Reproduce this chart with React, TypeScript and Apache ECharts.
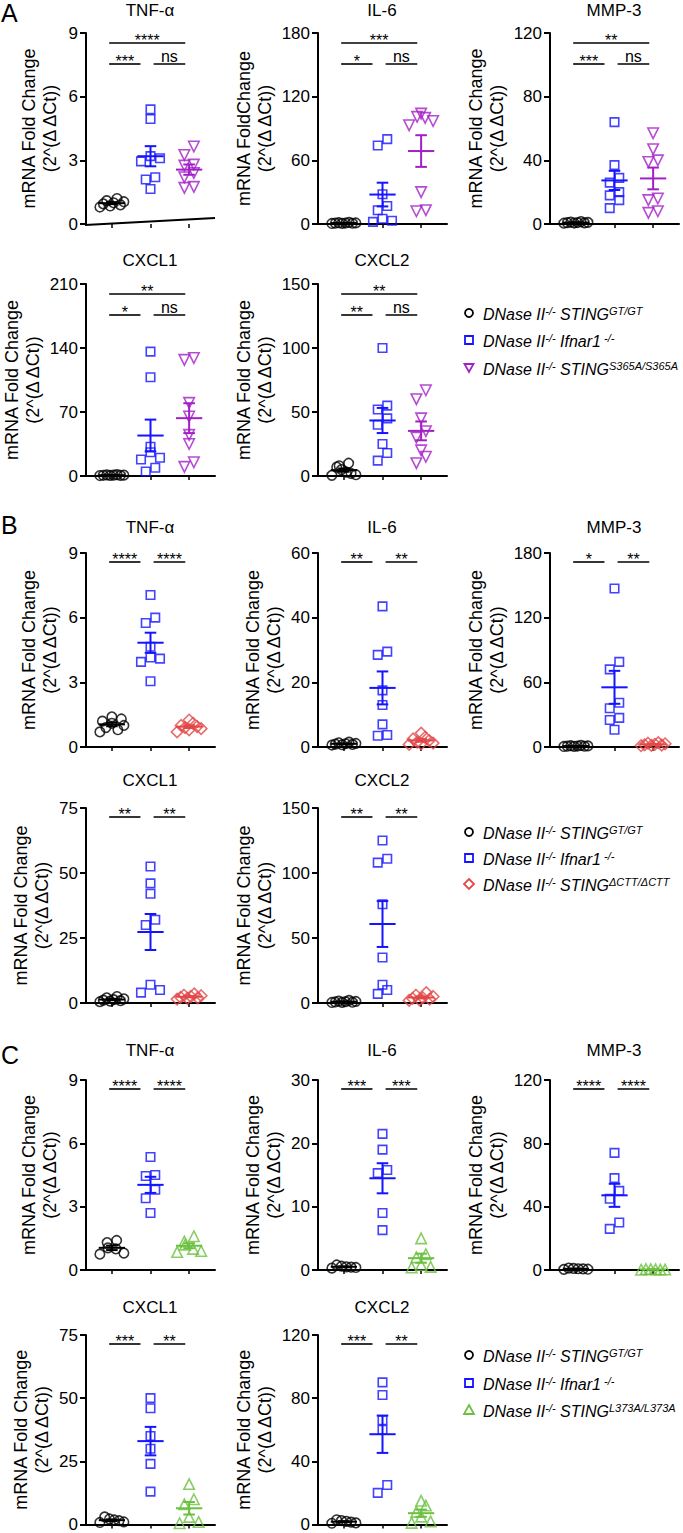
import React, { useEffect, useRef } from 'react';
import * as echarts from 'echarts';

const FONT = '"Liberation Sans", Arial, Helvetica, sans-serif';
const BLACK = '#000000';
const BLUE = '#1414ff';
const PURPLE = '#a21fc6';
const RED = '#e24848';
const GREEN = '#6cc040';

const GENES = ['TNF-α', 'IL-6', 'MMP-3', 'CXCL1', 'CXCL2'];
const Y_NAME = 'mRNA Fold Change\n(2^(Δ ΔCt))';
const Y_NAME_ALT = 'mRNA FoldChange\n(2^(Δ ΔCt))';

// ---------- Panel A (GT/GT, Ifnar1-/-, S365A) ----------
const A_TICKS = [[0, 3, 6, 9], [0, 60, 120, 180], [0, 40, 80, 120], [0, 70, 140, 210], [0, 50, 100, 150]];
const A_SIG = [['****', '***', 'ns'], ['***', '*', 'ns'], ['**', '***', 'ns'], ['**', '*', 'ns'], ['**', '**', 'ns']];
const A_TNF_GT = [1.2, 1.1, 1.05, 1.0, 0.95, 0.9, 0.85, 0.8];
const A_TNF_IFNAR = [5.4, 4.95, 3.2, 3.1, 2.95, 2.2, 2.1, 1.65];
const A_TNF_S365A = [3.65, 3.25, 2.8, 2.75, 2.4, 2.2, 1.75, 1.7];
const A_IL6_GT = [1.5, 1.2, 1.0, 0.9, 0.8, 0.7, 0.6, 0.5];
const A_IL6_IFNAR = [80, 74, 28, 17, 13, 5, 3, 2];
const A_IL6_S365A = [104, 101, 100, 97, 93, 30, 13, 12];
const A_MMP3_GT = [1.5, 1.2, 1.0, 0.9, 0.8, 0.7, 0.6, 0.5];
const A_MMP3_IFNAR = [64, 37, 29, 26, 20, 18, 15, 10];
const A_MMP3_S365A = [57, 47, 40, 39, 16, 15, 8, 7];
const A_CXCL1_GT = [1.5, 1.2, 1.0, 0.9, 0.8, 0.7, 0.6, 0.5];
const A_CXCL1_IFNAR = [136, 108, 32, 26, 20, 18, 9, 5];
const A_CXCL1_S365A = [129, 127, 80, 65, 45, 35, 15, 10];
const A_CXCL2_GT = [10, 8, 7, 5, 3, 2, 1, 0.5];
const A_CXCL2_IFNAR = [100, 55, 52, 45, 40, 25, 18, 12];
const A_CXCL2_S365A = [67, 60, 45, 35, 30, 20, 15, 10];

// ---------- Panel B (GT/GT, Ifnar1-/-, ΔCTT) ----------
const B_TICKS = [[0, 3, 6, 9], [0, 20, 40, 60], [0, 60, 120, 180], [0, 25, 50, 75], [0, 50, 100, 150]];
const B_SIG = [['****', '****'], ['**', '**'], ['*', '**'], ['**', '**'], ['**', '**']];
const B_TNF_GT = [1.4, 1.3, 1.2, 1.1, 1.0, 0.9, 0.8, 0.7];
const B_TNF_IFNAR = [7.05, 6.0, 5.75, 4.65, 4.15, 4.1, 3.95, 3.05];
const B_TNF_DCTT = [1.25, 1.1, 1.0, 0.95, 0.9, 0.85, 0.8, 0.7];
const B_IL6_GT = [1.5, 1.3, 1.1, 1.0, 0.9, 0.8, 0.7, 0.6];
const B_IL6_IFNAR = [43.5, 29.5, 28.5, 17.5, 13, 7, 3.7, 3.5];
const B_IL6_DCTT = [4.3, 3, 2.5, 2, 1.5, 1.2, 1, 0.8];
const B_MMP3_GT = [1.5, 1.2, 1.0, 0.9, 0.8, 0.7, 0.6, 0.5];
const B_MMP3_IFNAR = [147, 79, 72, 41, 36, 27, 25, 16];
const B_MMP3_DCTT = [4, 3.5, 3, 2.5, 2, 1.8, 1.5, 1.2];
const B_CXCL1_GT = [2.5, 2, 1.6, 1.3, 1.1, 0.9, 0.7, 0.5];
const B_CXCL1_IFNAR = [52.5, 46, 42, 32, 30, 7, 5, 4];
const B_CXCL1_DCTT = [3.5, 3, 2.8, 2.5, 2.2, 2, 1.8, 1.5];
const B_CXCL2_GT = [2, 1.5, 1.2, 1, 0.8, 0.6, 0.5, 0.4];
const B_CXCL2_IFNAR = [125, 111, 108, 76, 35, 14, 10, 7];
const B_CXCL2_DCTT = [8, 6, 5, 4, 3.5, 3, 2.5, 2];

// ---------- Panel C (GT/GT, Ifnar1-/-, L373A) ----------
const C_TICKS = [[0, 3, 6, 9], [0, 10, 20, 30], [0, 40, 80, 120], [0, 25, 50, 75], [0, 40, 80, 120]];
const C_SIG = [['****', '****'], ['***', '***'], ['****', '****'], ['***', '**'], ['***', '**']];
const C_TNF_GT = [1.4, 1.3, 1.05, 1.0, 0.8, 0.75];
const C_TNF_IFNAR = [5.35, 4.5, 4.45, 3.8, 3.4, 2.7];
const C_TNF_L373A = [1.6, 1.35, 1.2, 1.0, 0.9, 0.85];
const C_IL6_GT = [0.8, 0.6, 0.5, 0.45, 0.4, 0.3];
const C_IL6_IFNAR = [21.5, 19, 15.8, 15.3, 9, 6.3];
const C_IL6_L373A = [5.0, 2.5, 2.0, 0.8, 0.5, 0.4];
const C_MMP3_GT = [1.2, 1.0, 0.8, 0.7, 0.5, 0.4];
const C_MMP3_IFNAR = [74, 58, 50, 45, 30, 26];
const C_MMP3_L373A = [0.6, 0.5, 0.4, 0.3, 0.3, 0.2];
const C_CXCL1_GT = [3, 2.2, 1.8, 1.5, 1.0, 0.8];
const C_CXCL1_IFNAR = [50, 46, 35, 30, 24, 13];
const C_CXCL1_L373A = [16, 10, 8, 3, 1, 0.5];
const C_CXCL2_GT = [3, 2.5, 2, 1.5, 1, 0.8];
const C_CXCL2_IFNAR = [90, 82, 66, 60, 25, 20];
const C_CXCL2_L373A = [15, 12, 8, 5, 2, 1];

// ---------- Legends ----------
const LEGEND_A = ['S365A/S365A'];
const LEGEND_B = ['ΔCTT/ΔCTT'];
const LEGEND_C = ['L373A/L373A'];

// ---------- Layout ----------
const COL_LEFT = [86, 318, 550];
const PLOT_W = 129;
const X_MIN = 0.33;
const X_MAX = 3.67;
const PX_PER_X = PLOT_W / (X_MAX - X_MIN);
const ROWS = [
  { top: 33, h: 191 },
  { top: 284, h: 192 },
  { top: 553, h: 194 },
  { top: 808, h: 195 },
  { top: 1080, h: 190 },
  { top: 1335, h: 190 },
];
const TITLE_Y = [10, 260, 527, 780, 1050, 1307];

type Group = { values: number[]; color: string; symbol: string; size: number; rotate: number };
type Spec = { title: string; yName: string; ticks: number[]; groups: Group[]; sig: string[]; row: number; col: number };

const gt = (v: number[]): Group => ({ values: v, color: BLACK, symbol: 'circle', size: 9.5, rotate: 0 });
const ifn = (v: number[]): Group => ({ values: v, color: BLUE, symbol: 'rect', size: 8.5, rotate: 0 });
const s365 = (v: number[]): Group => ({ values: v, color: PURPLE, symbol: 'triangle', size: 10.5, rotate: 180 });
const dctt = (v: number[]): Group => ({ values: v, color: RED, symbol: 'diamond', size: 11.5, rotate: 0 });
const l373 = (v: number[]): Group => ({ values: v, color: GREEN, symbol: 'triangle', size: 10.5, rotate: 0 });

const pos = (panelRow: number, idx: number) => ({ row: panelRow + (idx < 3 ? 0 : 1), col: idx < 3 ? idx : idx - 3 });

const SPECS: Spec[] = [
  { title: GENES[0], yName: Y_NAME, ticks: A_TICKS[0], groups: [gt(A_TNF_GT), ifn(A_TNF_IFNAR), s365(A_TNF_S365A)], sig: A_SIG[0], ...pos(0, 0) },
  { title: GENES[1], yName: Y_NAME_ALT, ticks: A_TICKS[1], groups: [gt(A_IL6_GT), ifn(A_IL6_IFNAR), s365(A_IL6_S365A)], sig: A_SIG[1], ...pos(0, 1) },
  { title: GENES[2], yName: Y_NAME, ticks: A_TICKS[2], groups: [gt(A_MMP3_GT), ifn(A_MMP3_IFNAR), s365(A_MMP3_S365A)], sig: A_SIG[2], ...pos(0, 2) },
  { title: GENES[3], yName: Y_NAME, ticks: A_TICKS[3], groups: [gt(A_CXCL1_GT), ifn(A_CXCL1_IFNAR), s365(A_CXCL1_S365A)], sig: A_SIG[3], ...pos(0, 3) },
  { title: GENES[4], yName: Y_NAME, ticks: A_TICKS[4], groups: [gt(A_CXCL2_GT), ifn(A_CXCL2_IFNAR), s365(A_CXCL2_S365A)], sig: A_SIG[4], ...pos(0, 4) },
  { title: GENES[0], yName: Y_NAME, ticks: B_TICKS[0], groups: [gt(B_TNF_GT), ifn(B_TNF_IFNAR), dctt(B_TNF_DCTT)], sig: B_SIG[0], ...pos(2, 0) },
  { title: GENES[1], yName: Y_NAME, ticks: B_TICKS[1], groups: [gt(B_IL6_GT), ifn(B_IL6_IFNAR), dctt(B_IL6_DCTT)], sig: B_SIG[1], ...pos(2, 1) },
  { title: GENES[2], yName: Y_NAME, ticks: B_TICKS[2], groups: [gt(B_MMP3_GT), ifn(B_MMP3_IFNAR), dctt(B_MMP3_DCTT)], sig: B_SIG[2], ...pos(2, 2) },
  { title: GENES[3], yName: Y_NAME, ticks: B_TICKS[3], groups: [gt(B_CXCL1_GT), ifn(B_CXCL1_IFNAR), dctt(B_CXCL1_DCTT)], sig: B_SIG[3], ...pos(2, 3) },
  { title: GENES[4], yName: Y_NAME, ticks: B_TICKS[4], groups: [gt(B_CXCL2_GT), ifn(B_CXCL2_IFNAR), dctt(B_CXCL2_DCTT)], sig: B_SIG[4], ...pos(2, 4) },
  { title: GENES[0], yName: Y_NAME, ticks: C_TICKS[0], groups: [gt(C_TNF_GT), ifn(C_TNF_IFNAR), l373(C_TNF_L373A)], sig: C_SIG[0], ...pos(4, 0) },
  { title: GENES[1], yName: Y_NAME, ticks: C_TICKS[1], groups: [gt(C_IL6_GT), ifn(C_IL6_IFNAR), l373(C_IL6_L373A)], sig: C_SIG[1], ...pos(4, 1) },
  { title: GENES[2], yName: Y_NAME, ticks: C_TICKS[2], groups: [gt(C_MMP3_GT), ifn(C_MMP3_IFNAR), l373(C_MMP3_L373A)], sig: C_SIG[2], ...pos(4, 2) },
  { title: GENES[3], yName: Y_NAME, ticks: C_TICKS[3], groups: [gt(C_CXCL1_GT), ifn(C_CXCL1_IFNAR), l373(C_CXCL1_L373A)], sig: C_SIG[3], ...pos(4, 3) },
  { title: GENES[4], yName: Y_NAME, ticks: C_TICKS[4], groups: [gt(C_CXCL2_GT), ifn(C_CXCL2_IFNAR), l373(C_CXCL2_L373A)], sig: C_SIG[4], ...pos(4, 4) },
];

function gcd(a: number, b: number): number {
  return b === 0 ? a : gcd(b, a % b);
}

// simple row-binned swarm layout: points whose pixel heights are close share a row
function swarm(values: number[], center: number, max: number, plotH: number): number[] {
  const pyPer = plotH / max;
  const order = values.map((_, i) => i).sort((a, b) => values[a] - values[b]);
  const xs = new Array(values.length).fill(center);
  let row: number[] = [];
  let start = -Infinity;
  const flush = () => {
    const n = row.length;
    if (!n) return;
    const step = n > 1 ? Math.min(9.5, 24 / (n - 1)) : 0;
    const mult = [3, 2, 5, 7].find((m) => gcd(m, n) === 1) || 1;
    row.forEach((idx, k) => {
      const slot = n > 2 ? (k * mult) % n : k;
      xs[idx] = center + ((slot - (n - 1) / 2) * step) / PX_PER_X;
    });
    row = [];
  };
  for (const idx of order) {
    const py = values[idx] * pyPer;
    if (row.length && py - start < 9) row.push(idx);
    else {
      flush();
      row = [idx];
      start = py;
    }
  }
  flush();
  return xs;
}

function stats(v: number[]) {
  const n = v.length;
  const m = v.reduce((a, b) => a + b, 0) / n;
  const sd = Math.sqrt(v.reduce((a, b) => a + (b - m) * (b - m), 0) / (n - 1));
  return { mean: m, sem: sd / Math.sqrt(n) };
}

function legendText(sup3: string, third: boolean, second: boolean) {
  if (second) return '{i|DNase II}{s|-/-}{i| Ifnar1}{s| -/-}';
  if (third) return '{i|DNase II}{s|-/-}{i| STING}{s|' + sup3 + '}';
  return '{i|DNase II}{s|-/-}{i| STING}{s|GT/GT}';
}

function buildOption() {
  const grid: any[] = [];
  const xAxis: any[] = [];
  const yAxis: any[] = [];
  const series: any[] = [];
  const graphic: any[] = [];

  SPECS.forEach((spec, i) => {
    const left = COL_LEFT[spec.col];
    const { top, h } = ROWS[spec.row];
    const ticks = spec.ticks;
    const max = ticks[ticks.length - 1];
    const digits = String(max).length;
    const slanted = i === 0;
    grid.push({ left, top, width: PLOT_W, height: h, containLabel: false });
    xAxis.push({
      gridIndex: i,
      type: 'value',
      min: X_MIN,
      max: X_MAX,
      axisLine: { show: !slanted, onZero: false, lineStyle: { color: '#000', width: 2 } },
      axisTick: { show: true, customValues: [1, 2, 3], length: 4, lineStyle: { color: '#000', width: 1.5 } },
      axisLabel: { show: false },
      splitLine: { show: false },
    });
    yAxis.push({
      gridIndex: i,
      type: 'value',
      min: 0,
      max,
      interval: ticks[1],
      name: spec.yName,
      nameLocation: 'middle',
      nameRotate: 90,
      nameGap: 17 + 8.5 * digits,
      nameTextStyle: { fontFamily: FONT, fontSize: 18, lineHeight: 21, color: '#000' },
      axisLine: { show: true, onZero: false, lineStyle: { color: '#000', width: 2 } },
      axisTick: { show: true, length: 6, lineStyle: { color: '#000', width: 2 } },
      axisLabel: { fontFamily: FONT, fontSize: 17, color: '#000', margin: 8 },
      splitLine: { show: false },
    });

    if (slanted) {
      // the reference's TNF-α baseline in panel A is drawn slightly tilted
      graphic.push({
        type: 'line',
        shape: { x1: left - 1, y1: top + h + 1, x2: left + PLOT_W, y2: top + h - 6 },
        style: { stroke: '#000', lineWidth: 2 },
        z: 10,
      });
    }

    spec.groups.forEach((g, gi) => {
      const xs = swarm(g.values, gi + 1, max, h);
      series.push({
        type: 'scatter',
        xAxisIndex: i,
        yAxisIndex: i,
        silent: true,
        symbol: g.symbol,
        symbolSize: g.size,
        symbolRotate: g.rotate,
        itemStyle: { color: 'rgba(255,255,255,0)', borderColor: g.color, borderWidth: 1.6 },
        data: g.values.map((v, k) => [xs[k], v]),
        z: 2,
      });
    });

    const colors = spec.groups.map((g) => g.color);
    series.push({
      type: 'custom',
      xAxisIndex: i,
      yAxisIndex: i,
      silent: true,
      clip: false,
      z: 3,
      data: spec.groups.map((g, gi) => {
        const s = stats(g.values);
        return [gi + 1, s.mean, s.sem, gi];
      }),
      renderItem: (_p: any, api: any) => {
        const x = api.value(0);
        const m = api.value(1);
        const s = api.value(2);
        const color = colors[api.value(3)];
        const ml = api.coord([x - 0.34, m]);
        const mr = api.coord([x + 0.34, m]);
        const t = api.coord([x, m + s]);
        const b = api.coord([x, m - s]);
        const cw = 0.15 * PX_PER_X;
        const st = { stroke: color, lineWidth: 2 };
        return {
          type: 'group',
          children: [
            { type: 'line', shape: { x1: ml[0], y1: ml[1], x2: mr[0], y2: mr[1] }, style: st },
            { type: 'line', shape: { x1: t[0], y1: t[1], x2: b[0], y2: b[1] }, style: st },
            { type: 'line', shape: { x1: t[0] - cw, y1: t[1], x2: t[0] + cw, y2: t[1] }, style: st },
            { type: 'line', shape: { x1: b[0] - cw, y1: b[1], x2: b[0] + cw, y2: b[1] }, style: st },
          ],
        };
      },
    });

    const labels = spec.sig;
    const brackets =
      labels.length === 3
        ? [
            [0.93, 2.9, 0, 0],
            [0.93, 1.74, 1, 1],
            [2.08, 2.9, 1, 2],
          ]
        : [
            [0.93, 1.74, 0, 0],
            [2.08, 2.9, 0, 1],
          ];
    const offsets = labels.length === 3 ? [10, 31] : [9];
    series.push({
      type: 'custom',
      xAxisIndex: i,
      yAxisIndex: i,
      silent: true,
      clip: false,
      z: 3,
      data: brackets,
      renderItem: (_p: any, api: any) => {
        const p1 = api.coord([api.value(0), max]);
        const p2 = api.coord([api.value(1), max]);
        const y = p1[1] + offsets[api.value(2)];
        const label = labels[api.value(3)];
        const star = label.indexOf('*') >= 0;
        return {
          type: 'group',
          children: [
            { type: 'line', shape: { x1: p1[0], y1: y, x2: p2[0], y2: y }, style: { stroke: '#000', lineWidth: 1.6 } },
            {
              type: 'text',
              x: (p1[0] + p2[0]) / 2,
              y: star ? y + 5 : y,
              style: { text: label, fontFamily: FONT, fontSize: 16, fill: '#000', align: 'center', verticalAlign: 'bottom' },
            },
          ],
        };
      },
    });

    graphic.push({
      type: 'text',
      x: left + 64,
      y: TITLE_Y[spec.row],
      style: { text: spec.title, fontFamily: FONT, fontSize: 17, fill: '#000', align: 'center', verticalAlign: 'middle' },
    });
  });

  // panel letters
  [['A', 0], ['B', 512], ['C', 1042]].forEach(([t, y]) => {
    graphic.push({
      type: 'text',
      x: 1,
      y: y as number,
      style: { text: t as string, fontFamily: FONT, fontSize: 25, fill: '#000', align: 'left', verticalAlign: 'top' },
    });
  });

  // legends
  const legends = [
    { ys: [313, 340, 368], sup: LEGEND_A[0], third: 'tdown', color: PURPLE },
    { ys: [832, 858, 884], sup: LEGEND_B[0], third: 'diamond', color: RED },
    { ys: [1355, 1383, 1410], sup: LEGEND_C[0], third: 'tup', color: GREEN },
  ];
  const mx = 469;
  const rich = {
    i: { fontFamily: FONT, fontSize: 16, fontStyle: 'italic', fill: '#000', lineHeight: 18 },
    s: { fontFamily: FONT, fontSize: 11, fontStyle: 'italic', fill: '#000', verticalAlign: 'top', lineHeight: 18 },
  };
  legends.forEach((L) => {
    const [y0, y1, y2] = L.ys;
    graphic.push({ type: 'circle', shape: { cx: mx, cy: y0, r: 4 }, style: { fill: 'none', stroke: BLACK, lineWidth: 1.8 } });
    graphic.push({ type: 'rect', shape: { x: mx - 4, y: y1 - 4, width: 8, height: 8 }, style: { fill: 'none', stroke: BLUE, lineWidth: 1.8 } });
    let pts: number[][];
    if (L.third === 'tdown') pts = [[mx - 4.5, y2 - 4], [mx + 4.5, y2 - 4], [mx, y2 + 4]];
    else if (L.third === 'diamond') pts = [[mx, y2 - 5], [mx + 5, y2], [mx, y2 + 5], [mx - 5, y2]];
    else pts = [[mx, y2 - 5], [mx + 5, y2 + 4], [mx - 5, y2 + 4]];
    graphic.push({ type: 'polygon', shape: { points: pts }, style: { fill: 'none', stroke: L.color, lineWidth: 1.8 } });
    [y0, y1, y2].forEach((y, k) => {
      graphic.push({
        type: 'text',
        x: 483,
        y: y + 1,
        style: { text: legendText(L.sup, k === 2, k === 1), rich, verticalAlign: 'middle', align: 'left' },
      });
    });
  });

  return {
    animation: false,
    backgroundColor: '#ffffff',
    grid,
    xAxis,
    yAxis,
    series,
    graphic: { elements: graphic },
  };
}

export default function App() {
  const ref = useRef<HTMLDivElement>(null);
  useEffect(() => {
    if (!ref.current) return;
    const chart = echarts.init(ref.current, undefined, { renderer: 'svg' });
    chart.setOption(buildOption() as any);
    return () => chart.dispose();
  }, []);
  return (
    <div
      ref={ref}
      style={{ position: 'absolute', left: 0, top: 0, width: 683, height: 1533, background: '#fff' }}
    />
  );
}
